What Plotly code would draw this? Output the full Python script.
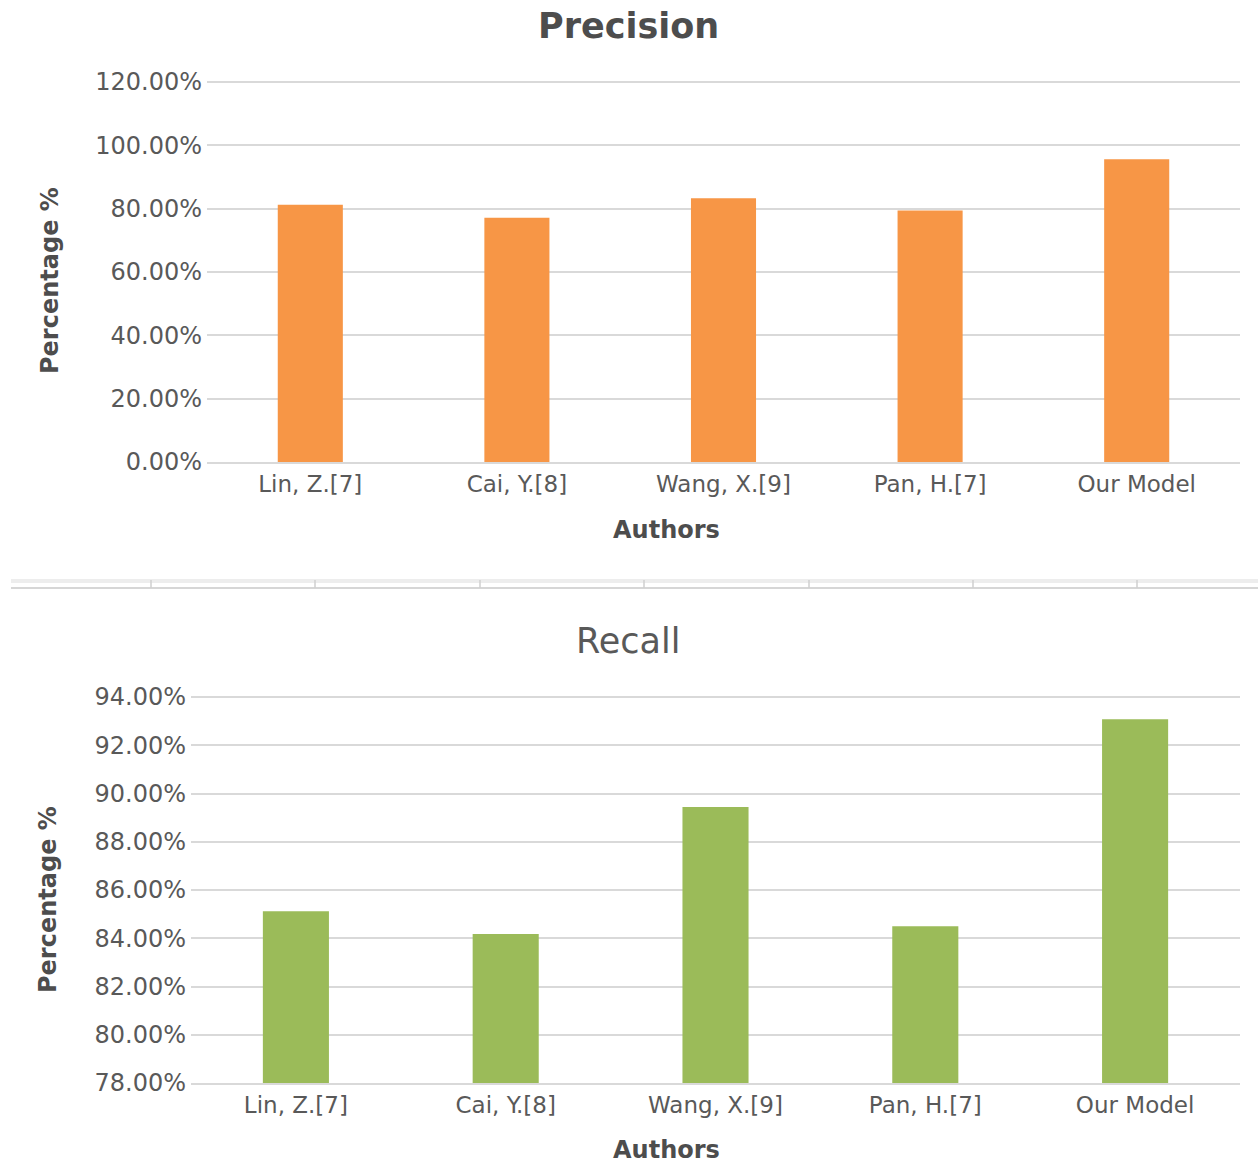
import plotly.graph_objects as go

authors = ["Lin, Z.[7]", "Cai, Y.[8]", "Wang, X.[9]", "Pan, H.[7]", "Our Model"]
precision = [0.8125, 0.771, 0.833, 0.794, 0.956]
recall = [0.8512, 0.8418, 0.8944, 0.845, 0.9308]
precision_ticks = [0, 0.2, 0.4, 0.6, 0.8, 1.0, 1.2]
recall_ticks = [0.78, 0.80, 0.82, 0.84, 0.86, 0.88, 0.90, 0.92, 0.94]

W, H = 1258, 1163
FONT = "DejaVu Sans"
TICK_COLOR = "#595959"
GRID = "#d9d9d9"


def px_x(x):
    return x / W


def px_y(y):
    return 1 - y / H


fig = go.Figure()
fig.add_trace(go.Bar(x=authors, y=precision, marker_color="#F79646",
                     marker_line_width=0, xaxis="x", yaxis="y"))
fig.add_trace(go.Bar(x=authors, y=recall, marker_color="#9BBB59",
                     marker_line_width=0, xaxis="x2", yaxis="y2"))

xtick_font = dict(family=FONT, size=23, color=TICK_COLOR)
ytick_font = dict(family=FONT, size=24, color=TICK_COLOR)

fig.update_layout(
    template="none",
    width=W, height=H,
    margin=dict(l=0, r=0, t=0, b=0, pad=0),
    paper_bgcolor="white", plot_bgcolor="white",
    showlegend=False,
    bargap=0.685,
    font=dict(family=FONT),
    xaxis=dict(domain=[px_x(207), px_x(1240)], anchor="y", showgrid=False,
               showline=True, linecolor=GRID, linewidth=2, ticks="",
               automargin=False, tickfont=xtick_font),
    yaxis=dict(domain=[px_y(462), px_y(80.7)], anchor="x", range=[0, 1.204],
               tickvals=precision_ticks, tickformat=".2%", showgrid=True,
               gridcolor=GRID, gridwidth=1.5, zeroline=False, showline=False,
               ticks="", ticklabelstandoff=4, automargin=False,
               tickfont=ytick_font),
    xaxis2=dict(domain=[px_x(191), px_x(1240)], anchor="y2", showgrid=False,
                showline=True, linecolor=GRID, linewidth=2, ticks="",
                automargin=False, tickfont=xtick_font),
    yaxis2=dict(domain=[px_y(1083), px_y(695.8)], anchor="x2",
                range=[0.78, 0.9405], tickvals=recall_ticks, tickformat=".2%",
                showgrid=True, gridcolor=GRID, gridwidth=1.5, zeroline=False,
                showline=False, ticks="", ticklabelstandoff=4,
                automargin=False, tickfont=ytick_font),
)

annotations = [
    dict(text="<b>Precision</b>", x=px_x(628), y=px_y(26),
         font=dict(size=35, color="#4d4d4d")),
    dict(text="Recall", x=px_x(628), y=px_y(641),
         font=dict(size=35, color="#595959")),
    dict(text="<b>Authors</b>", x=px_x(667), y=px_y(530),
         font=dict(size=24, color="#4d4d4d")),
    dict(text="<b>Authors</b>", x=px_x(667), y=px_y(1150),
         font=dict(size=24, color="#4d4d4d")),
    dict(text="<b>Percentage %</b>", x=px_x(50), y=px_y(281), textangle=-90,
         font=dict(size=24, color="#4d4d4d")),
    dict(text="<b>Percentage %</b>", x=px_x(48), y=px_y(900), textangle=-90,
         font=dict(size=24, color="#4d4d4d")),
]
for a in annotations:
    a.update(xref="paper", yref="paper", showarrow=False,
             xanchor="center", yanchor="middle")
    a["font"]["family"] = FONT
fig.update_layout(annotations=annotations)

# separator band between the two charts
shapes = [
    dict(type="rect", x0=px_x(11), x1=1, y0=px_y(583), y1=px_y(579),
         fillcolor="#ededed", line_width=0),
    dict(type="line", x0=px_x(11), x1=1, y0=px_y(588), y1=px_y(588),
         line=dict(color="#d6d6d6", width=2)),
]
for tx in [151, 315, 480, 644, 809, 973, 1137]:
    shapes.append(dict(type="line", x0=px_x(tx), x1=px_x(tx),
                       y0=px_y(588), y1=px_y(580),
                       line=dict(color="#cfcfcf", width=1.5)))
for s in shapes:
    s.update(xref="paper", yref="paper", layer="above")
fig.update_layout(shapes=shapes)

fig.write_html("out.html")
